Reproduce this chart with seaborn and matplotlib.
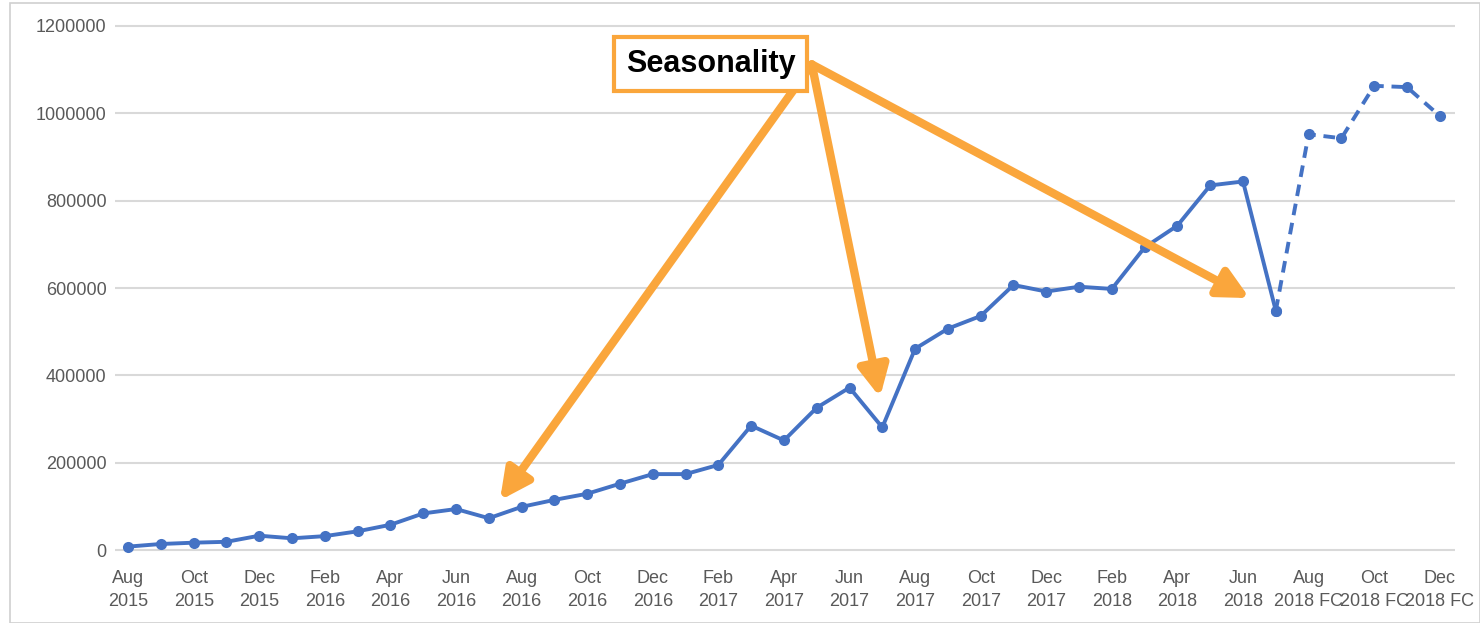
import pandas as pd
import matplotlib
matplotlib.use("Agg")
import matplotlib.pyplot as plt
import seaborn as sns
from matplotlib.patches import Rectangle

# monthly values, Aug 2015 .. Dec 2018 (last five are forecast)
months = ['Aug 2015', 'Sep 2015', 'Oct 2015', 'Nov 2015', 'Dec 2015',
          'Jan 2016', 'Feb 2016', 'Mar 2016', 'Apr 2016', 'May 2016', 'Jun 2016', 'Jul 2016',
          'Aug 2016', 'Sep 2016', 'Oct 2016', 'Nov 2016', 'Dec 2016',
          'Jan 2017', 'Feb 2017', 'Mar 2017', 'Apr 2017', 'May 2017', 'Jun 2017', 'Jul 2017',
          'Aug 2017', 'Sep 2017', 'Oct 2017', 'Nov 2017', 'Dec 2017',
          'Jan 2018', 'Feb 2018', 'Mar 2018', 'Apr 2018', 'May 2018', 'Jun 2018', 'Jul 2018',
          'Aug 2018 FC', 'Sep 2018 FC', 'Oct 2018 FC', 'Nov 2018 FC', 'Dec 2018 FC']
values = [8000, 14000, 17000, 19000, 33000,
          27000, 32000, 43000, 58000, 84000, 94000, 73000,
          99000, 115000, 129000, 152000, 174000,
          174000, 195000, 285000, 251000, 326000, 372000, 281000,
          461000, 507000, 536000, 607000, 592000,
          603000, 598000, 693000, 743000, 835000, 844000, 548000,
          952000, 943000, 1063000, 1060000, 994000]
forecast_start = 35  # dashed from Jul 2018 onwards

tick_labels = ['Aug\n2015', 'Oct\n2015', 'Dec\n2015', 'Feb\n2016', 'Apr\n2016', 'Jun\n2016',
               'Aug\n2016', 'Oct\n2016', 'Dec\n2016', 'Feb\n2017', 'Apr\n2017', 'Jun\n2017',
               'Aug\n2017', 'Oct\n2017', 'Dec\n2017', 'Feb\n2018', 'Apr\n2018', 'Jun\n2018',
               'Aug\n2018 FC', 'Oct\n2018 FC', 'Dec\n2018 FC']

df = pd.DataFrame({'month': months, 'value': values})
df['idx'] = range(len(df))
actual = df.iloc[:forecast_start + 1]
fc = df.iloc[forecast_start:]

sns.set_style('white')
plt.rcParams['font.family'] = ['Liberation Sans', 'DejaVu Sans']

blue = '#4472C4'
orange = '#FAA63C'
grey_txt = '#595959'

fig = plt.figure(figsize=(14.8, 6.23), dpi=100)
ax = fig.add_axes([0.0777, 0.110, 0.9053, 0.8553])

sns.lineplot(data=actual, x='idx', y='value', ax=ax, color=blue, lw=2.8,
             marker='o', markersize=8, markeredgewidth=0, clip_on=False)
sns.lineplot(data=fc, x='idx', y='value', ax=ax, color=blue, lw=2.8, linestyle=(0, (3, 2)),
             marker='o', markersize=8, markeredgewidth=0, clip_on=False)

ax.set_xlim(-0.4, 40.46)
ax.set_ylim(-10000, 1210000)
ax.set_yticks(range(0, 1200001, 200000))
ax.set_yticklabels([str(v) for v in range(0, 1200001, 200000)])
ax.set_xticks(range(0, len(months), 2))
ax.set_xticklabels(tick_labels, linespacing=1.45)
ax.tick_params(axis='both', length=0, labelsize=13, labelcolor=grey_txt)
ax.tick_params(axis='x', pad=11)
ax.tick_params(axis='y', pad=6)
ax.set_xlabel('')
ax.set_ylabel('')
ax.grid(axis='y', color='#d9d9d9', lw=1.5)
ax.set_axisbelow(True)
for s in ax.spines.values():
    s.set_visible(False)

# seasonality callout
start = (20.85, 1112000)
tips = [(11.34, 114000), (22.93, 350000), (34.2, 577000)]
for tip in tips:
    ax.annotate('', xy=tip, xytext=start,
                arrowprops=dict(arrowstyle='-|>,head_length=1.2,head_width=0.6',
                                mutation_scale=15, color=orange, lw=6,
                                shrinkA=0, shrinkB=0))
ax.text(17.77, 1113000, 'Seasonality', fontsize=22, fontweight='bold', color='black',
        ha='center', va='center',
        bbox=dict(boxstyle='square,pad=0.38', fc='white', ec=orange, lw=3))

# light frame around the whole chart
fig.patches.append(Rectangle((0.007, 0.0), 0.993, 0.995, transform=fig.transFigure,
                             fill=False, ec='#d0d0d0', lw=1.2))

fig.savefig('out.png', dpi=100)
